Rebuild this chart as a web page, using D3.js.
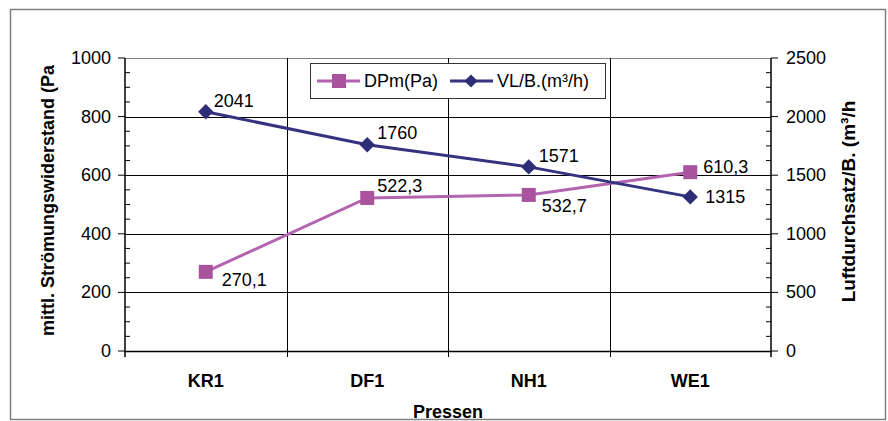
<!DOCTYPE html>
<html>
<head>
<meta charset="utf-8">
<title>Pressen</title>
<style>
  body { margin: 0; background: #fff; }
  svg { display: block; font-family: "Liberation Sans", Arial, sans-serif; }
</style>
</head>
<body>
<div id="chart"></div>
<script src="https://cdn.jsdelivr.net/npm/d3@7"></script>
<script>
// data
const categories = ["KR1", "DF1", "NH1", "WE1"];
const dpm = [270.1, 522.3, 532.7, 610.3];      // DPm(Pa), left axis
const vl = [2041, 1760, 1571, 1315];           // VL/B.(m³/h), right axis
const dpmLabels = ["270,1", "522,3", "532,7", "610,3"];
const vlLabels = ["2041", "1760", "1571", "1315"];
const leftTicks = [0, 200, 400, 600, 800, 1000];
const rightTicks = [0, 500, 1000, 1500, 2000, 2500];

// label offsets from the marker
const dpmOffsets = [[16, 8], [10, -12], [13, 11], [13, -5]];
const vlOffsets = [[8, -11], [10, -12], [10, -11], [15, 0]];

const W = 888, H = 421;
const plot = {left: 125, right: 771, top: 58, bottom: 351};

const svg = d3.select("#chart").append("svg")
  .attr("width", W).attr("height", H);

// outer frame
svg.append("rect")
  .attr("x", 10.5).attr("y", 9.5)
  .attr("width", 875).attr("height", 410)
  .attr("fill", "#fff").attr("stroke", "#808080").attr("stroke-width", 1.5);

const x = d3.scaleBand().domain(categories).range([plot.left, plot.right]).padding(0);
const yL = d3.scaleLinear().domain([0, 1000]).range([plot.bottom, plot.top]);
const yR = d3.scaleLinear().domain([0, 2500]).range([plot.bottom, plot.top]);

// horizontal grid
svg.append("g")
  .selectAll("line")
  .data(leftTicks.slice(1))
  .join("line")
    .attr("x1", plot.left).attr("x2", plot.right)
    .attr("y1", d => Math.round(yL(d)) + 0.5).attr("y2", d => Math.round(yL(d)) + 0.5)
    .attr("stroke", d => d === 1000 ? "#808080" : "#000").attr("stroke-width", 1);

// vertical grid at category boundaries
const bounds = categories.map(c => x(c)).concat([x.range()[1]]);
svg.append("g")
  .selectAll("line")
  .data(bounds.slice(1, -1))
  .join("line")
    .attr("x1", d => Math.round(d) + 0.5).attr("x2", d => Math.round(d) + 0.5)
    .attr("y1", plot.top).attr("y2", plot.bottom + 6)
    .attr("stroke", "#000").attr("stroke-width", 1);

// left axis
const gL = svg.append("g").attr("transform", `translate(${plot.left},0)`);
gL.append("line").attr("x1", 0).attr("x2", 0).attr("y1", plot.top).attr("y2", plot.bottom + 6)
  .attr("stroke", "#000").attr("stroke-width", 1.5);
gL.selectAll("line.minor")
  .data(d3.range(0, 1001, 50).filter(v => v % 200 !== 0))
  .join("line").attr("class", "minor")
    .attr("x1", 0).attr("x2", 5)
    .attr("y1", d => yL(d)).attr("y2", d => yL(d))
    .attr("stroke", "#000");
gL.selectAll("line.major")
  .data(leftTicks)
  .join("line").attr("class", "major")
    .attr("x1", -7).attr("x2", 0)
    .attr("y1", d => yL(d)).attr("y2", d => yL(d))
    .attr("stroke", "#000");
gL.selectAll("text")
  .data(leftTicks)
  .join("text")
    .attr("x", -14).attr("y", d => yL(d))
    .attr("text-anchor", "end").attr("dominant-baseline", "central")
    .attr("font-size", 18).attr("fill", "#000")
    .text(d => d);

// right axis
const gR = svg.append("g").attr("transform", `translate(${plot.right},0)`);
gR.append("line").attr("x1", 0).attr("x2", 0).attr("y1", plot.top).attr("y2", plot.bottom + 6)
  .attr("stroke", "#000").attr("stroke-width", 1.5);
gR.selectAll("line.minor")
  .data(d3.range(0, 2501, 125).filter(v => v % 500 !== 0))
  .join("line").attr("class", "minor")
    .attr("x1", -5).attr("x2", 0)
    .attr("y1", d => yR(d)).attr("y2", d => yR(d))
    .attr("stroke", "#000");
gR.selectAll("line.major")
  .data(rightTicks)
  .join("line").attr("class", "major")
    .attr("x1", 0).attr("x2", 7)
    .attr("y1", d => yR(d)).attr("y2", d => yR(d))
    .attr("stroke", "#000");
gR.selectAll("text")
  .data(rightTicks)
  .join("text")
    .attr("x", 15).attr("y", d => yR(d))
    .attr("text-anchor", "start").attr("dominant-baseline", "central")
    .attr("font-size", 18).attr("fill", "#000")
    .text(d => d);

// bottom axis
svg.append("line")
  .attr("x1", plot.left).attr("x2", plot.right)
  .attr("y1", plot.bottom + 0.5).attr("y2", plot.bottom + 0.5)
  .attr("stroke", "#000").attr("stroke-width", 1.5);
svg.append("g")
  .selectAll("text")
  .data(categories)
  .join("text")
    .attr("x", d => x(d) + x.bandwidth() / 2)
    .attr("y", 381)
    .attr("text-anchor", "middle").attr("dominant-baseline", "central")
    .attr("font-size", 18).attr("font-weight", "bold")
    .text(d => d);

// axis titles
svg.append("text")
  .attr("x", 448).attr("y", 418)
  .attr("text-anchor", "middle")
  .attr("font-size", 18).attr("font-weight", "bold")
  .text("Pressen");

svg.append("text")
  .attr("transform", `translate(48, ${(plot.top + plot.bottom) / 2 - 4}) rotate(-90)`)
  .attr("text-anchor", "middle").attr("dominant-baseline", "central")
  .attr("font-size", 18).attr("font-weight", "bold")
  .text("mittl. Strömungswiderstand (Pa");

svg.append("text")
  .attr("transform", `translate(848, ${(plot.top + plot.bottom) / 2 - 3}) rotate(-90)`)
  .attr("text-anchor", "middle").attr("dominant-baseline", "central")
  .attr("font-size", 19).attr("font-weight", "bold")
  .text("Luftdurchsatz/B. (m³/h");

// colours
const cDpmLine = "#B463B0", cDpmMark = "#A9539F";
const cVlLine = "#333380", cVlMark = "#2E2E78";

const cx = d => x(d) + x.bandwidth() / 2;

const dpmData = categories.map((c, i) => ({c, v: dpm[i], label: dpmLabels[i], off: dpmOffsets[i]}));
const vlData = categories.map((c, i) => ({c, v: vl[i], label: vlLabels[i], off: vlOffsets[i]}));

// lines
svg.append("path")
  .datum(dpmData)
  .attr("fill", "none").attr("stroke", cDpmLine).attr("stroke-width", 3)
  .attr("d", d3.line().x(d => cx(d.c)).y(d => yL(d.v)));

svg.append("path")
  .datum(vlData)
  .attr("fill", "none").attr("stroke", cVlLine).attr("stroke-width", 3)
  .attr("d", d3.line().x(d => cx(d.c)).y(d => yR(d.v)));

// markers
svg.append("g")
  .selectAll("rect")
  .data(dpmData)
  .join("rect")
    .attr("x", d => cx(d.c) - 7).attr("y", d => yL(d.v) - 7)
    .attr("width", 14).attr("height", 14)
    .attr("fill", cDpmMark);

const diamond = d3.symbol().type(d3.symbolDiamond2).size(150);
svg.append("g")
  .selectAll("path")
  .data(vlData)
  .join("path")
    .attr("transform", d => `translate(${cx(d.c)},${yR(d.v)})`)
    .attr("d", diamond)
    .attr("fill", cVlMark);

// data labels
svg.append("g")
  .selectAll("text")
  .data(dpmData)
  .join("text")
    .attr("x", d => cx(d.c) + d.off[0]).attr("y", d => yL(d.v) + d.off[1])
    .attr("dominant-baseline", "central")
    .attr("font-size", 18)
    .text(d => d.label);

svg.append("g")
  .selectAll("text")
  .data(vlData)
  .join("text")
    .attr("x", d => cx(d.c) + d.off[0]).attr("y", d => yR(d.v) + d.off[1])
    .attr("dominant-baseline", "central")
    .attr("font-size", 18)
    .text(d => d.label);

// legend
const lg = svg.append("g");
lg.append("rect")
  .attr("x", 310.5).attr("y", 63.5).attr("width", 295).attr("height", 35)
  .attr("fill", "#fff").attr("stroke", "#333").attr("stroke-width", 1);
const ly = 81;
lg.append("line").attr("x1", 317).attr("x2", 360).attr("y1", ly).attr("y2", ly)
  .attr("stroke", cDpmLine).attr("stroke-width", 3);
lg.append("rect").attr("x", 332).attr("y", ly - 7).attr("width", 14).attr("height", 14)
  .attr("fill", cDpmMark);
lg.append("text").attr("x", 364).attr("y", ly).attr("dominant-baseline", "central")
  .attr("font-size", 18).text("DPm(Pa)");
lg.append("line").attr("x1", 450).attr("x2", 493).attr("y1", ly).attr("y2", ly)
  .attr("stroke", cVlLine).attr("stroke-width", 3);
lg.append("path").attr("transform", `translate(471,${ly})`)
  .attr("d", d3.symbol().type(d3.symbolDiamond2).size(110)).attr("fill", cVlMark);
lg.append("text").attr("x", 497).attr("y", ly).attr("dominant-baseline", "central")
  .attr("font-size", 18).text("VL/B.(m³/h)");
</script>
</body>
</html>
